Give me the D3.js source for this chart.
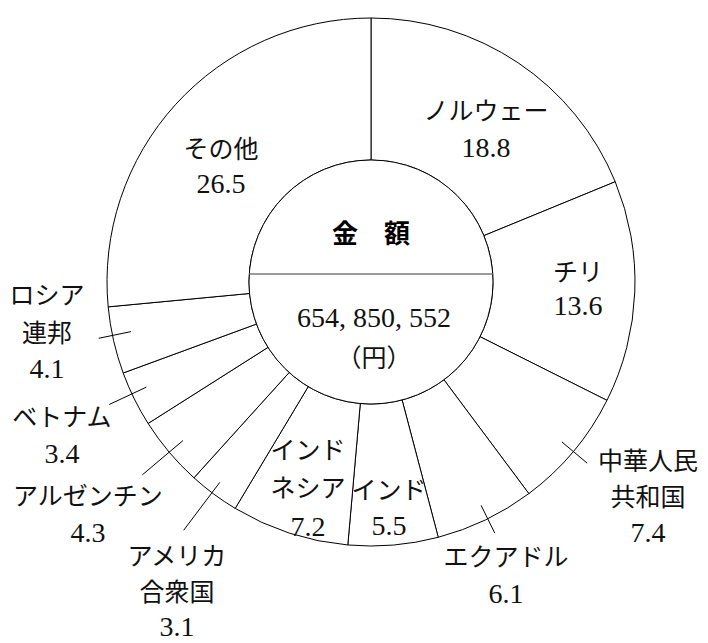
<!DOCTYPE html>
<html>
<head>
<meta charset="utf-8">
<script src="https://cdn.jsdelivr.net/npm/d3@7"></script>
<style>
  html, body { margin: 0; padding: 0; background: #fff; }
  svg { display: block; }
</style>
</head>
<body>
<svg id="chart" width="708" height="643"></svg>
<script>
// ---- data ----
const categories = ["ノルウェー", "チリ", "中華人民共和国", "エクアドル", "インド", "インドネシア",
                    "アメリカ合衆国", "アルゼンチン", "ベトナム", "ロシア連邦", "その他"];
const values = [18.8, 13.6, 7.4, 6.1, 5.5, 7.2, 3.1, 4.3, 3.4, 4.1, 26.5];
const labelLines = [["ノルウェー"], ["チリ"], ["中華人民", "共和国"], ["エクアドル"], ["インド"],
                    ["インド", "ネシア"], ["アメリカ", "合衆国"], ["アルゼンチン"], ["ベトナム"],
                    ["ロシア", "連邦"], ["その他"]];
const centerTitle = "金　額";
const centerValue = "654, 850, 552";
const centerUnit = "（円）";

// ---- layout (positions only) ----
const cx = 371, cy = 282, R = 264, r = 122, dividerOffset = 8;
const labelLayout = {
  "ノルウェー":     { x: 486, ys: [120, 157] },
  "チリ":           { x: 578, ys: [281, 315] },
  "中華人民共和国": { x: 648, ys: [470, 506, 542] },
  "エクアドル":     { x: 506, ys: [566, 603] },
  "インド":         { x: 389, ys: [499, 535] },
  "インドネシア":   { x: 308, ys: [459, 497, 536] },
  "アメリカ合衆国": { x: 177, ys: [565, 601, 636] },
  "アルゼンチン":   { x: 88,  ys: [505, 542] },
  "ベトナム":       { x: 62,  ys: [426, 463] },
  "ロシア連邦":     { x: 47,  ys: [304, 342, 378] },
  "その他":         { x: 221, ys: [158, 193] }
};
const leaderLayout = {
  "中華人民共和国": { r0: 249, r1: 282, da: 0 },
  "エクアドル":     { r0: 249, r1: 280, da: -0.5 },
  "アメリカ合衆国": { r0: 251, r1: 311, da: 0.5 },
  "アルゼンチン":   { r0: 246, r1: 299, da: 0 },
  "ベトナム":       { r0: 248, r1: 289, da: 1.2 },
  "ロシア連邦":     { r0: 245, r1: 278, da: 1.1 }
};

const svg = d3.select("#chart");
const g = svg.append("g").attr("transform", `translate(${cx},${cy})`);

const pie = d3.pie().sort(null).value(d => d)(values);
const arc = d3.arc().innerRadius(r).outerRadius(R);

g.selectAll("path.slice").data(pie).join("path")
  .attr("class", "slice")
  .attr("d", arc)
  .attr("fill", "#fff")
  .attr("stroke", "#000")
  .attr("stroke-width", 1);

// leader lines
pie.forEach((p, i) => {
  const L = leaderLayout[categories[i]];
  if (!L) return;
  const a = (p.startAngle + p.endAngle) / 2 + L.da * Math.PI / 180;
  g.append("line")
    .attr("x1", L.r0 * Math.sin(a)).attr("y1", -L.r0 * Math.cos(a))
    .attr("x2", L.r1 * Math.sin(a)).attr("y2", -L.r1 * Math.cos(a))
    .attr("stroke", "#000").attr("stroke-width", 1);
});

// inner circle
g.append("circle").attr("r", r).attr("fill", "#fff").attr("stroke", "#000").attr("stroke-width", 1);
const hw = Math.sqrt(r * r - dividerOffset * dividerOffset);
g.append("line")
  .attr("x1", -hw).attr("x2", hw).attr("y1", -dividerOffset).attr("y2", -dividerOffset)
  .attr("stroke", "#7a7a7a").attr("stroke-width", 1.6);

const jpFont = "'Noto Sans CJK JP', 'Noto Sans', sans-serif";
const numFont = "'Liberation Serif', 'DejaVu Serif', serif";
const isNum = s => /^[\d.,\s]+$/.test(s);

svg.append("text").attr("x", cx).attr("y", 243).attr("text-anchor", "middle")
  .attr("font-family", jpFont).attr("font-size", 26).attr("font-weight", "bold")
  .attr("fill", "#000").text(centerTitle);
svg.append("text").attr("x", cx + 3).attr("y", 327).attr("text-anchor", "middle")
  .attr("font-family", numFont).attr("font-size", 28).attr("fill", "#111").text(centerValue);
svg.append("text").attr("x", cx + 3).attr("y", 367).attr("text-anchor", "middle")
  .attr("font-family", jpFont).attr("font-size", 25).attr("fill", "#111").text(centerUnit);

// labels
categories.forEach((c, i) => {
  const lay = labelLayout[c];
  const lines = labelLines[i].concat([values[i].toFixed(1)]);
  lines.forEach((t, j) => {
    svg.append("text")
      .attr("x", lay.x).attr("y", lay.ys[j])
      .attr("text-anchor", "middle")
      .attr("font-family", isNum(t) ? numFont : jpFont)
      .attr("font-size", isNum(t) ? 28 : 25)
      .attr("fill", "#111")
      .text(t);
  });
});
</script>
</body>
</html>
